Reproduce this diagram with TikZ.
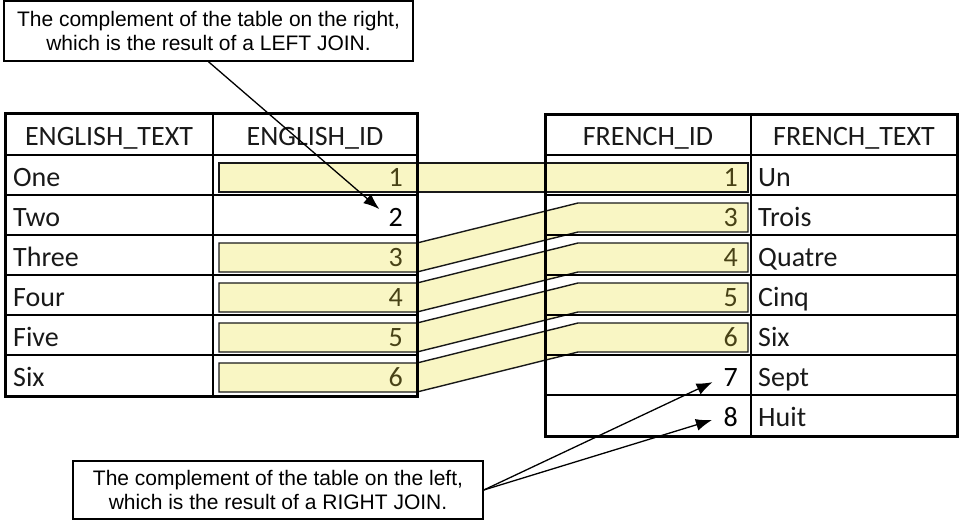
\documentclass[tikz,border=0pt]{standalone}
\usepackage{fontspec}
\setmainfont{Carlito}
\newfontfamily\notefont{Liberation Sans}
\usetikzlibrary{arrows.meta}
\definecolor{bandfill}{RGB}{249,246,196}
\definecolor{banddigit}{RGB}{72,66,22}
\definecolor{celltext}{RGB}{25,25,25}
\tikzset{
  cell/.style={inner sep=0pt, text=celltext, font=\fontsize{28}{30}\selectfont},
  band/.style={fill=bandfill, draw=black!90, line width=1.4pt},
  grid/.style={line width=1.5pt},
  frame/.style={line width=3pt},
  note/.style={draw, line width=1.5pt, align=center, inner sep=0pt,
    font=\notefont\fontsize{21}{24}\selectfont},
  pointer/.style={line width=1.3pt, -{Latex[length=16pt,width=12pt]}, shorten >=12pt},
}
\begin{document}
\begin{tikzpicture}[x=1pt,y=-1pt]
        \fill[white] (0,0) rectangle (966,522);
        \useasboundingbox (0,0) rectangle (966,522);
        % matching ids: left row / right row
        \foreach \l/\r in {1/1,3/2,4/3,5/4,6/5} {
            \filldraw[band] (219,123+40*\l) -- (417,123+40*\l) -- (578,123+40*\r) -- (748,123+40*\r)
                -- (748,152+40*\r) -- (578,152+40*\r) -- (417,152+40*\l) -- (219,152+40*\l) -- cycle;
        }
        % left table
        \foreach \y in {195,235,...,355} {
            \draw[grid] (5,\y) -- (417,\y);
        }
        \draw[grid] (213,113) -- (213,396);
        \draw[line width=2.5pt] (5,155) -- (417,155);
        \draw[frame] (5,113) rectangle (417,396);
        % right table
        \foreach \y in {195,235,...,395} {
            \draw[grid] (545,\y) -- (957,\y);
        }
        \draw[grid] (751,114) -- (751,436);
        \draw[line width=2.5pt] (545,155) -- (957,155);
        \draw[frame] (545,114) rectangle (957,436);
        \node[cell, anchor=base] (ehtext) at (109,145) {ENGLISH\_TEXT};
        \node[cell, anchor=base] (ehid) at (315,145) {ENGLISH\_ID};
        \node[cell, anchor=base] (fhid) at (648,145) {FRENCH\_ID};
        \node[cell, anchor=base] (fhtext) at (854,145) {FRENCH\_TEXT};
        \foreach \w/\c [count=\i] in {One/banddigit,Two/black,Three/banddigit,Four/banddigit,Five/banddigit,Six/banddigit} {
            \node[cell, anchor=base west] (etext\i) at (13,146+40*\i) {\w};
            \node[cell, anchor=base east, text=\c] (eid\i) at (403,146+40*\i) {\i};
        }
        \foreach \n/\w/\c [count=\j] in {1/Un/banddigit,3/Trois/banddigit,4/Quatre/banddigit,5/Cinq/banddigit,6/Six/banddigit,7/Sept/black,8/Huit/black} {
            \node[cell, anchor=base east, text=\c] (fid\n) at (738,146+40*\j) {\n};
            \node[cell, anchor=base west] (ftext\n) at (758,146+40*\j) {\w};
        }
        % callouts
        \node[note, minimum width=409pt, minimum height=60pt] (leftnote) at (208.5,31)
            {The complement of the table on the right,\\ which is the result of a LEFT JOIN.};
        \node[note, minimum width=410pt, minimum height=58pt] (rightnote) at (278,490)
            {The complement of the table on the left,\\ which is the result of a RIGHT JOIN.};
        \draw[pointer] (leftnote.south) -- (eid2.west);
        \draw[pointer] (rightnote.east) -- (fid7.west);
        \draw[pointer] (rightnote.east) -- (fid8.west);
    \end{tikzpicture}
\end{document}
